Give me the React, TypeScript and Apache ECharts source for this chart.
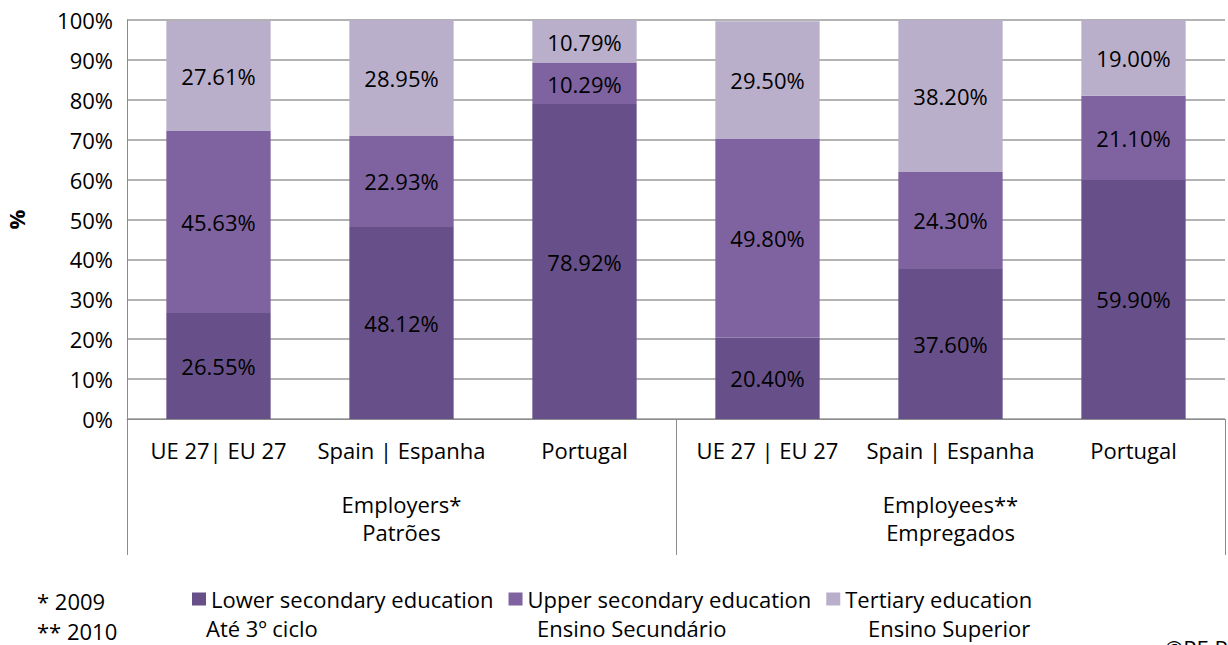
import React, { useEffect, useRef } from "react";
import * as echarts from "echarts";

const categories = [
  "UE 27| EU 27",
  "Spain | Espanha",
  "Portugal",
  "UE 27 | EU 27",
  "Spain | Espanha",
  "Portugal",
];
const groups = ["Employers*\nPatrões", "Employees**\nEmpregados"];
const seriesNames = [
  "Lower secondary education",
  "Upper secondary education",
  "Tertiary education",
];
const seriesSubNames = ["Até 3º ciclo", "Ensino Secundário", "Ensino Superior"];
const lowerValues = [26.55, 48.12, 78.92, 20.4, 37.6, 59.9];
const upperValues = [45.63, 22.93, 10.29, 49.8, 24.3, 21.1];
const tertiaryValues = [27.61, 28.95, 10.79, 29.5, 38.2, 19.0];
const colors = ["#675089", "#7F63A1", "#B9AFCB"];
const footnotes = ["* 2009", "** 2010"];

const FONT = "'Open Sans', 'Noto Sans', sans-serif";

export default function App() {
  const ref = useRef<HTMLDivElement>(null);
  useEffect(() => {
    document.body.style.margin = "0";
    const chart = echarts.init(ref.current!, null, { renderer: "svg" });
    const valuesList = [lowerValues, upperValues, tertiaryValues];
    const legendLeft = 187;
    const itemPitch = 331;
    chart.setOption({
      animation: false,
      textStyle: { fontFamily: FONT },
      grid: {
        left: 127,
        right: 3,
        top: 20,
        bottom: 226,
        containLabel: false,
        outerBoundsMode: "none",
      },
      legend: {
        left: legendLeft,
        top: 583,
        itemWidth: 14,
        itemHeight: 13,
        itemGap: 15,
        icon: "rect",
        selectedMode: false,
        textStyle: {
          fontFamily: FONT,
          fontSize: 22,
          color: "#000",
          width: 297,
          overflow: "none",
        },
        data: seriesNames,
      },
      xAxis: [
        {
          type: "category",
          data: categories,
          axisLine: { show: true, lineStyle: { color: "#8c8c8c", width: 1 } },
          axisTick: { show: false },
          axisLabel: { color: "#000", fontSize: 22, fontFamily: FONT, margin: 20, interval: 0 },
        },
        {
          type: "category",
          data: groups,
          position: "bottom",
          axisLine: { show: false },
          axisTick: { show: true, length: 136, lineStyle: { color: "#8c8c8c" } },
          axisLabel: {
            color: "#000",
            fontSize: 22,
            fontFamily: FONT,
            margin: 71,
            lineHeight: 28,
            interval: 0,
          },
          splitLine: { show: false },
        },
      ],
      yAxis: {
        type: "value",
        min: 0,
        max: 100,
        interval: 10,
        name: "%",
        nameLocation: "middle",
        nameGap: 100,
        nameRotate: 90,
        nameTextStyle: { fontWeight: "bold", fontSize: 22, color: "#000", fontFamily: FONT },
        axisLine: { show: true, lineStyle: { color: "#8c8c8c" } },
        axisTick: { show: false },
        axisLabel: { formatter: "{value}%", color: "#000", fontSize: 22, fontFamily: FONT, margin: 14 },
        splitLine: { show: true, lineStyle: { color: "#9a9a9a", width: 1.5 } },
      },
      series: valuesList.map((vals, i) => ({
        name: seriesNames[i],
        type: "bar",
        stack: "total",
        barWidth: "57%",
        xAxisIndex: 0,
        itemStyle: { color: colors[i] },
        label: {
          show: true,
          position: "inside",
          color: "#000",
          fontSize: 22,
          fontFamily: FONT,
          formatter: (p: any) => Number(p.value).toFixed(2) + "%",
        },
        data: vals,
      })),
      graphic: [
        ...seriesSubNames.map((t, i) => ({
          type: "text",
          left: legendLeft + 14 + 5 + i * itemPitch,
          top: 617,
          style: { text: t, fontSize: 22, fontFamily: FONT, fill: "#000" },
        })),
        ...footnotes.map((t, i) => ({
          type: "text",
          left: 37,
          top: 590 + i * 30,
          style: { text: t, fontSize: 22, fontFamily: FONT, fill: "#000" },
        })),
        {
          type: "text",
          left: 1165,
          top: 637,
          style: { text: "©PE Rock", fontSize: 22, fontFamily: FONT, fill: "#000" },
        },
      ],
    });
    return () => chart.dispose();
  }, []);
  return <div ref={ref} style={{ width: 1228, height: 645 }} />;
}
